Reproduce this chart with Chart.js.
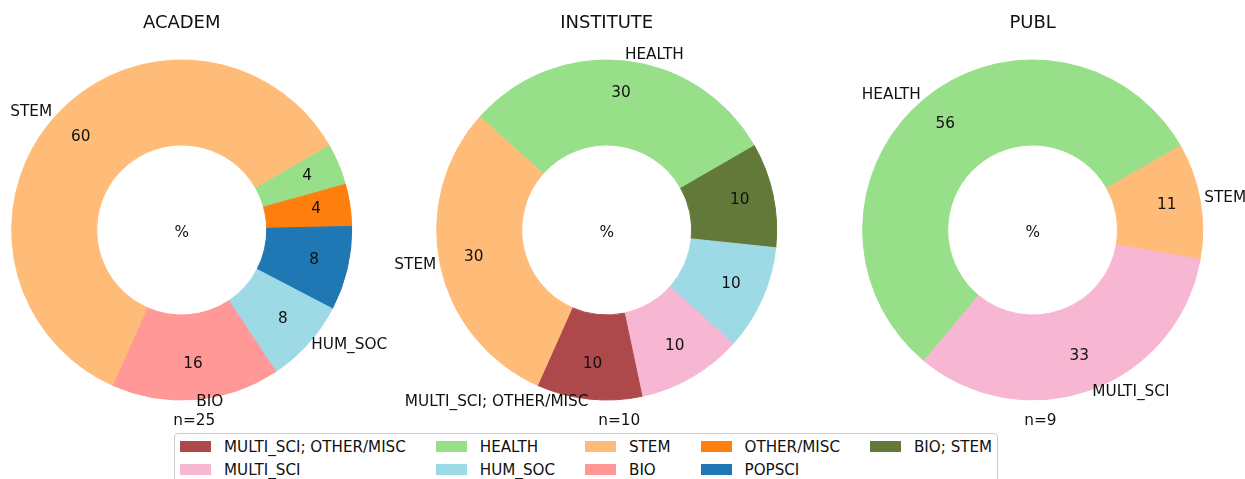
<!DOCTYPE html>
<html>
<head>
<meta charset="utf-8">
<script src="https://cdn.jsdelivr.net/npm/chart.js@4.4.1/dist/chart.umd.min.js"></script>
<style>
  html, body { margin: 0; padding: 0; background: #fff; overflow: hidden; }
  #wrap { position: relative; width: 1245px; height: 479px; }
  #wrap canvas { position: absolute; left: 0; top: 0; }
  #legend {
    position: absolute; left: 174px; top: 433px; height: 60px;
    border: 1px solid #cccccc; border-radius: 4px; background: #fff;
    padding: 1px 5px 0 5px;
    display: grid; grid-auto-flow: column; grid-template-rows: 23px 23px;
    column-gap: 30px;
    font: 15.15px "DejaVu Sans"; color: #111;
  }
  .item { display: flex; align-items: center; white-space: nowrap; }
  .sw { width: 31px; height: 11px; margin-right: 13px; flex: none; }
</style>
</head>
<body>
<div id="wrap">
  <canvas id="c0" width="1245" height="479"></canvas>
  <canvas id="c1" width="1245" height="479"></canvas>
  <canvas id="c2" width="1245" height="479"></canvas>
  <div id="legend"></div>
</div>
<script>
// ---- data ----
const categories = ['MULTI_SCI; OTHER/MISC', 'MULTI_SCI', 'HEALTH', 'HUM_SOC', 'STEM', 'BIO', 'OTHER/MISC', 'POPSCI', 'BIO; STEM'];
const categoryColors = ['#ad494a', '#f7b6d2', '#98df8a', '#9edae5', '#ffbb78', '#ff9896', '#ff7f0e', '#1f77b4', '#637939'];

const panelTitles = ['ACADEM', 'INSTITUTE', 'PUBL'];

const academLabels = ['HEALTH', 'OTHER/MISC', 'POPSCI', 'HUM_SOC', 'BIO', 'STEM'];
const academCounts = [1, 1, 2, 2, 4, 15];
const academShown = ['HUM_SOC', 'BIO', 'STEM'];

const instituteLabels = ['BIO; STEM', 'HUM_SOC', 'MULTI_SCI', 'MULTI_SCI; OTHER/MISC', 'STEM', 'HEALTH'];
const instituteCounts = [1, 1, 1, 1, 3, 3];
const instituteShown = ['MULTI_SCI; OTHER/MISC', 'STEM', 'HEALTH'];

const publLabels = ['STEM', 'MULTI_SCI', 'HEALTH'];
const publCounts = [1, 3, 5];
const publShown = ['STEM', 'MULTI_SCI', 'HEALTH'];

// ---- layout ----
const W = 1245, H = 479;
const centersX = [181.7, 606.7, 1032.7];
const centerY = 230;
const R = 170;
const TEXT = '#111';
const FONT = '"DejaVu Sans", sans-serif';

function colorOf(label) { return categoryColors[categories.indexOf(label)]; }

function makeAnnot(title, shown) {
  return {
    id: 'annot',
    afterDatasetsDraw(chart) {
      const ctx = chart.ctx;
      const meta = chart.getDatasetMeta(0);
      const ds = chart.data.datasets[0];
      const total = ds.data.reduce((a, b) => a + b, 0);
      let cx = 0, cy = 0;
      ctx.save();
      ctx.fillStyle = TEXT;
      ctx.textBaseline = 'middle';
      meta.data.forEach((arc, i) => {
        const p = arc.getProps(['x', 'y', 'startAngle', 'endAngle', 'outerRadius'], true);
        cx = p.x; cy = p.y;
        const mid = (p.startAngle + p.endAngle) / 2;
        const pct = Math.round(ds.data[i] / total * 100);
        ctx.font = '15.3px ' + FONT;
        ctx.textAlign = 'center';
        ctx.fillText(String(pct), p.x + Math.cos(mid) * p.outerRadius * 0.8, p.y + Math.sin(mid) * p.outerRadius * 0.8 - 1.5);
        const lab = chart.data.labels[i];
        if (shown.includes(lab)) {
          const lx = p.x + Math.cos(mid) * p.outerRadius * 1.025;
          const ly = p.y + Math.sin(mid) * p.outerRadius * 1.025 - 1.5;
          ctx.font = '15.3px ' + FONT;
          ctx.textAlign = Math.cos(mid) > 0 ? 'left' : 'right';
          ctx.fillText(lab, lx, ly);
        }
      });
      // center mark
      ctx.font = '15.3px ' + FONT;
      ctx.textAlign = 'center';
      ctx.fillText('%', cx, cy + 3);
      // title
      ctx.font = '18px ' + FONT;
      ctx.fillText(title, cx, 23);
      // sample size
      ctx.font = '15.3px ' + FONT;
      ctx.textAlign = 'left';
      ctx.fillText('n=' + total, cx - 8.5, 421);
      ctx.restore();
    }
  };
}

const panels = [
  { labels: academLabels, counts: academCounts, shown: academShown },
  { labels: instituteLabels, counts: instituteCounts, shown: instituteShown },
  { labels: publLabels, counts: publCounts, shown: publShown }
];

panels.forEach((pn, k) => {
  const cx = centersX[k];
  const colors = pn.labels.map(colorOf);
  new Chart(document.getElementById('c' + k), {
    type: 'doughnut',
    data: {
      labels: pn.labels,
      datasets: [{
        data: pn.counts,
        backgroundColor: colors,
        borderColor: colors,
        borderWidth: 1,
        radius: R,
        cutout: '50%'
      }]
    },
    options: {
      responsive: false,
      animation: false,
      events: [],
      rotation: 60,
      layout: { padding: { left: cx - R, right: W - cx - R, top: centerY - R, bottom: H - centerY - R } },
      plugins: { legend: { display: false }, tooltip: { enabled: false }, title: { display: false } }
    },
    plugins: [makeAnnot(panelTitles[k], pn.shown)]
  });
});

// ---- legend (column-major, 2 rows) ----
const legend = document.getElementById('legend');
categories.forEach((c, i) => {
  const it = document.createElement('div');
  it.className = 'item';
  const sw = document.createElement('span');
  sw.className = 'sw';
  sw.style.background = categoryColors[i];
  const tx = document.createElement('span');
  tx.textContent = c;
  it.appendChild(sw); it.appendChild(tx);
  legend.appendChild(it);
});
</script>
</body>
</html>
